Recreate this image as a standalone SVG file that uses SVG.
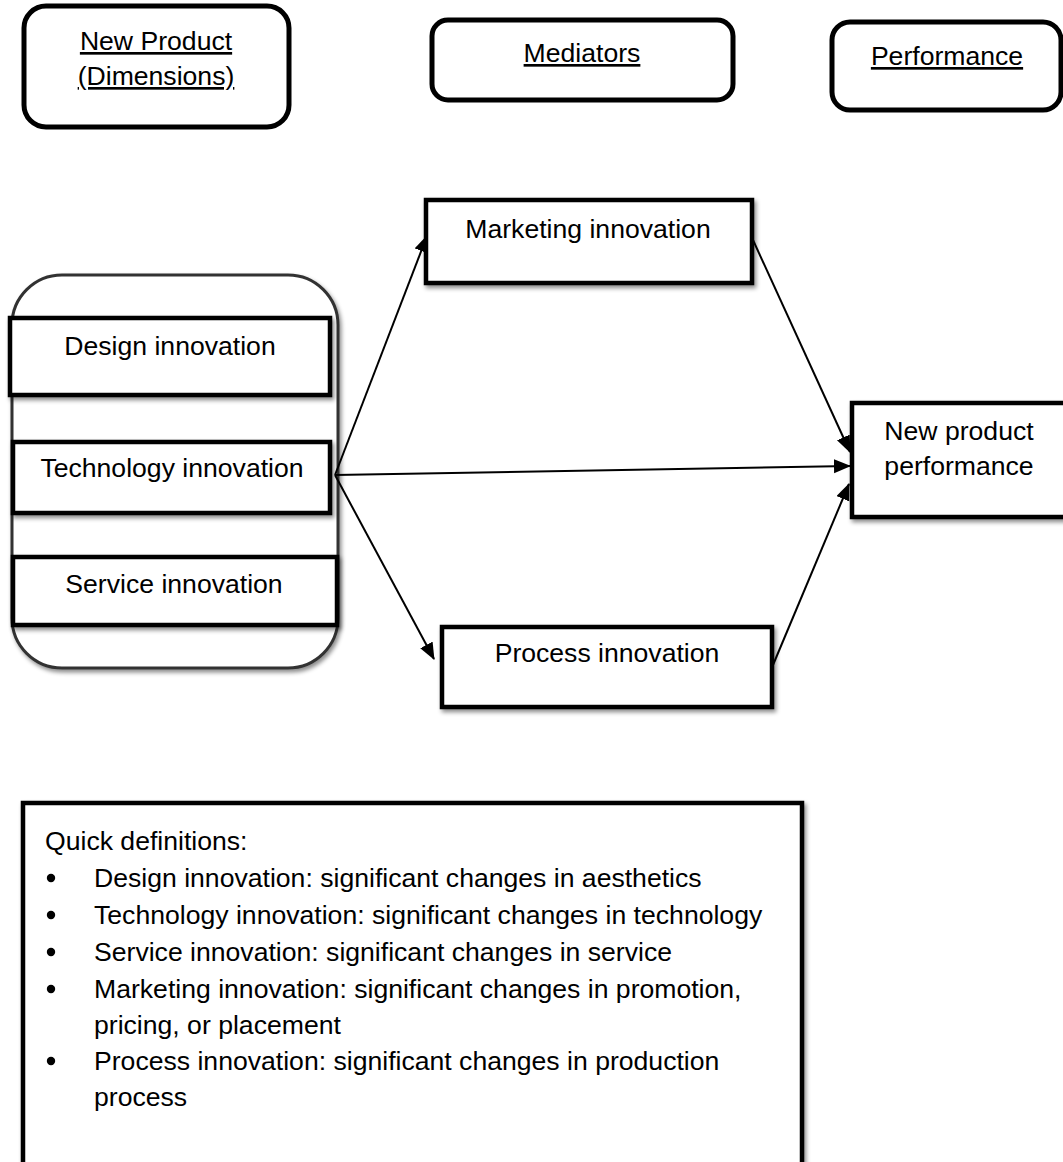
<svg xmlns="http://www.w3.org/2000/svg" width="1063" height="1162" viewBox="0 0 1063 1162">
<defs>
  <filter id="sh" x="-10%" y="-10%" width="130%" height="130%">
    <feDropShadow dx="2" dy="3" stdDeviation="2" flood-color="#000" flood-opacity="0.45"/>
  </filter>
  <marker id="arr" markerUnits="userSpaceOnUse" markerWidth="18" markerHeight="15" refX="16" refY="7" orient="auto">
    <path d="M0,0 L17,7 L0,14 z" fill="#000"/>
  </marker>
</defs>
<style>
  text { font-family: "Liberation Sans", Arial, sans-serif; font-size: 26.6px; fill: #000; }
  .c { text-anchor: middle; }
  .u { text-decoration: underline; }
  .hdr { fill: #fff; stroke: #000; stroke-width: 5; }
  .box { fill: #fff; stroke: #000; stroke-width: 4.5; filter: url(#sh); }
  .cont { fill: #fff; stroke: #333; stroke-width: 3; filter: url(#sh); }
  .con { stroke: #000; stroke-width: 2; fill: none; }
</style>
<rect width="1063" height="1162" fill="#fff"/>

<g id="hdr-newproduct">
  <rect class="hdr" x="24" y="6" width="265" height="121" rx="22"/>
  <text class="c u" x="156" y="50">New Product</text>
  <text class="c u" x="156" y="85">(Dimensions)</text>
</g>
<g id="hdr-mediators">
  <rect class="hdr" x="432" y="20" width="301" height="80" rx="16"/>
  <text class="c u" x="582" y="62">Mediators</text>
</g>
<g id="hdr-performance">
  <rect class="hdr" x="832" y="22" width="229" height="88" rx="18"/>
  <text class="c u" x="947" y="65">Performance</text>
</g>

<g id="dimensions-group">
  <rect class="cont" x="12" y="275" width="326" height="393" rx="50"/>
</g>
<g id="design">
  <rect class="box" x="10" y="318" width="320" height="77"/>
  <text class="c" x="170" y="355">Design innovation</text>
</g>
<g id="technology">
  <rect class="box" x="13" y="442" width="317" height="71"/>
  <text class="c" x="172" y="477">Technology innovation</text>
</g>
<g id="service">
  <rect class="box" x="13" y="557" width="324" height="68"/>
  <text class="c" x="174" y="593">Service innovation</text>
</g>
<g id="marketing">
  <rect class="box" x="426" y="200" width="326" height="83"/>
  <text class="c" x="588" y="238">Marketing innovation</text>
</g>
<g id="process">
  <rect class="box" x="442" y="627" width="330" height="80"/>
  <text class="c" x="607" y="662">Process innovation</text>
</g>
<g id="npp">
  <rect class="box" x="852" y="403" width="220" height="114"/>
  <text class="c" x="959" y="440">New product</text>
  <text class="c" x="959" y="475">performance</text>
</g>

<g id="connectors">
  <line class="con" x1="335" y1="475" x2="427" y2="236" marker-end="url(#arr)"/>
  <line class="con" x1="335" y1="475" x2="850" y2="466" marker-end="url(#arr)"/>
  <line class="con" x1="335" y1="475" x2="434" y2="659" marker-end="url(#arr)"/>
  <line class="con" x1="753" y1="240" x2="850" y2="452" marker-end="url(#arr)"/>
  <line class="con" x1="773" y1="665" x2="849" y2="484" marker-end="url(#arr)"/>
</g>

<g id="definitions">
  <rect class="box" x="23" y="803" width="779" height="400"/>
  <text x="45" y="850">Quick definitions:</text>
  <circle cx="51" cy="878" r="4.2"/>
  <text x="94" y="887">Design innovation: significant changes in aesthetics</text>
  <circle cx="51" cy="915" r="4.2"/>
  <text x="94" y="924">Technology innovation: significant changes in technology</text>
  <circle cx="51" cy="952" r="4.2"/>
  <text x="94" y="961">Service innovation: significant changes in service</text>
  <circle cx="51" cy="989" r="4.2"/>
  <text x="94" y="998">Marketing innovation: significant changes in promotion,</text>
  <text x="94" y="1034">pricing, or placement</text>
  <circle cx="51" cy="1061" r="4.2"/>
  <text x="94" y="1070">Process innovation: significant changes in production</text>
  <text x="94" y="1106">process</text>
</g>
</svg>
